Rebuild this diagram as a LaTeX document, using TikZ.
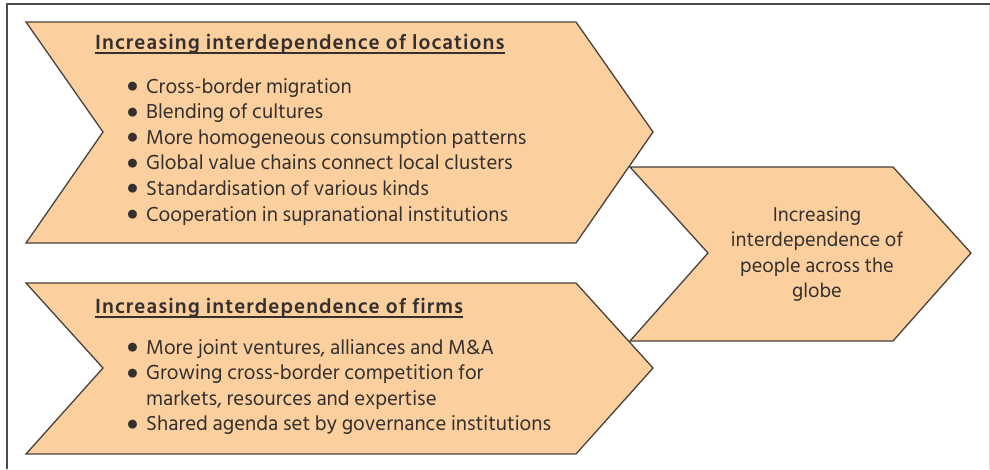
\documentclass[tikz,border=0pt]{standalone}
\usepackage{fontspec}
\usepackage{graphicx}
\setmainfont{Hind Siliguri}
\definecolor{peach}{RGB}{252,207,159}
\definecolor{edge}{RGB}{72,66,60}
\definecolor{ink}{RGB}{52,48,46}
\tikzset{
  chevron/.style={draw=edge,fill=peach,line width=1.3pt,line join=miter},
  heading/.style={anchor=base west,inner sep=0pt,text=ink,
    font=\bfseries\fontsize{21}{25.6}\selectfont\addfontfeatures{LetterSpace=5}},
  itemlist/.style={anchor=base west,inner sep=0pt,text=ink,
    font=\fontsize{20.8}{25.6}\selectfont},
  goal/.style={anchor=base,inner sep=0pt,text=ink,
    font=\fontsize{20.4}{25.6}\selectfont},
}
\newcommand{\bul}{\makebox[17pt][l]{\hspace{-3.5pt}\raisebox{-5.5pt}{\scalebox{1.6}{\textbullet}}}}
\begin{document}
\begin{tikzpicture}[x=1pt,y=-1pt]
		\useasboundingbox (0,0) rectangle (990,469);
		% Frame
		\draw[line width=1.2pt,black!70] (7,469) -- (7,4) -- (990,4);
		\draw[line width=1pt,black!15] (989,5) -- (989,469);
		
		% Chevrons
		\draw[chevron] (26,22) -- (576,22) -- (653,132) -- (576,243) -- (26,243) -- (103,132) -- cycle;
		\draw[chevron] (26,283) -- (576,283) -- (653,368) -- (576,454) -- (26,454) -- (103,368) -- cycle;
		\draw[chevron] (630,167) -- (893,167) -- (971,253) -- (893,341) -- (630,341) -- (708,253) -- cycle;
		
		% Locations
		\node[heading] (loctitle) at (95,49) {Increasing interdependence of locations};
		\draw[ink,line width=1.4pt] ([yshift=-4pt]loctitle.base west) -- ([yshift=-4pt]loctitle.base east);
		\node[itemlist] (locitems) at (129,93) {\begin{tabular}[t]{@{}l@{}}
			\bul Cross-border migration\\
			\bul Blending of cultures\\
			\bul More homogeneous consumption patterns\\
			\bul Global value chains connect local clusters\\
			\bul Standardisation of various kinds\\
			\bul Cooperation in supranational institutions
		\end{tabular}};
		
		% Firms
		\node[heading] (firmtitle) at (95,313) {Increasing interdependence of firms};
		\draw[ink,line width=1.4pt] ([yshift=-4pt]firmtitle.base west) -- ([yshift=-4pt]firmtitle.base east);
		\node[itemlist] (firmitems) at (129,354) {\begin{tabular}[t]{@{}l@{}}
			\bul More joint ventures, alliances and M\&A\\
			\bul Growing cross-border competition for\\
			\hspace*{17pt}markets, resources and expertise\\
			\bul Shared agenda set by governance institutions
		\end{tabular}};
		
		% People
		\node[goal] (people) at (817,221) {\begin{tabular}[t]{@{}c@{}}
			Increasing\\
			interdependence of\\
			people across the\\
			globe
		\end{tabular}};
	\end{tikzpicture}
\end{document}
